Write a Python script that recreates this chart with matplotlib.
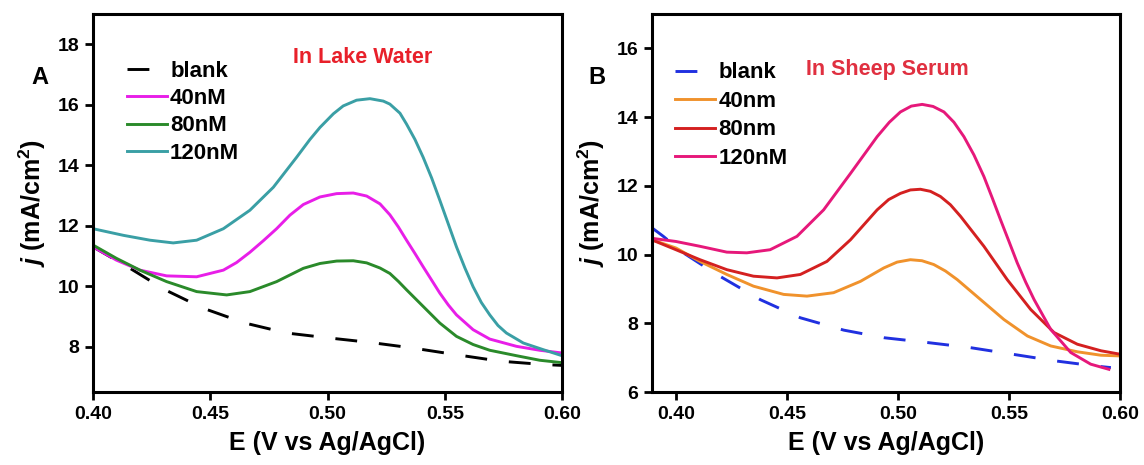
import matplotlib
matplotlib.use("Agg")
import matplotlib.pyplot as plt

plt.rcParams['font.family'] = ['Liberation Sans', 'DejaVu Sans']
plt.rcParams['font.weight'] = 'bold'
plt.rcParams['axes.labelweight'] = 'bold'
plt.rcParams['mathtext.fontset'] = 'custom'
plt.rcParams['mathtext.rm'] = 'Liberation Sans:bold'
plt.rcParams['mathtext.bf'] = 'Liberation Sans:bold'
plt.rcParams['mathtext.it'] = 'Liberation Sans:italic:bold'
plt.rcParams['mathtext.bfit'] = 'Liberation Sans:italic:bold'

# ---- Panel A: lake water ----
a_blank_E = [0.400, 0.4158, 0.4307, 0.447, 0.4648, 0.4826, 0.5003, 0.5181, 0.5359, 0.5543, 0.5736, 0.5919, 0.600]
a_blank_j = [11.30, 10.59, 9.88, 9.27, 8.78, 8.45, 8.29, 8.14, 7.96, 7.74, 7.52, 7.41, 7.38]

a_40_E = [0.400, 0.410, 0.420, 0.4314, 0.4442, 0.4556, 0.4612, 0.4669, 0.4726, 0.4783, 0.484, 0.4897,
          0.4968, 0.5039, 0.511, 0.5167, 0.5224, 0.5266, 0.5302, 0.5337, 0.5373, 0.5408, 0.5444,
          0.5479, 0.5515, 0.555, 0.5621, 0.5692, 0.5806, 0.5905, 0.600]
a_40_j = [11.30, 10.86, 10.53, 10.34, 10.31, 10.53, 10.78, 11.12, 11.50, 11.90, 12.35, 12.70,
          12.95, 13.06, 13.08, 12.98, 12.72, 12.36, 11.96, 11.52, 11.08, 10.64, 10.20,
          9.77, 9.38, 9.05, 8.56, 8.25, 8.01, 7.88, 7.79]

a_80_E = [0.400, 0.410, 0.420, 0.4314, 0.4442, 0.457, 0.4669, 0.4783, 0.4897, 0.4968, 0.5039, 0.511,
          0.5167, 0.5224, 0.5266, 0.5302, 0.5337, 0.5408, 0.5479, 0.555, 0.5621, 0.5692, 0.5806,
          0.5905, 0.600]
a_80_j = [11.36, 10.92, 10.53, 10.15, 9.82, 9.71, 9.82, 10.15, 10.59, 10.75, 10.83, 10.84,
          10.77, 10.60, 10.42, 10.16, 9.88, 9.33, 8.78, 8.34, 8.07, 7.88, 7.70,
          7.55, 7.47]

a_120_E = [0.400, 0.413, 0.4243, 0.4342, 0.4442, 0.4556, 0.4669, 0.4769, 0.4868, 0.4925, 0.4968, 0.5025,
           0.5067, 0.5124, 0.5181, 0.5238, 0.5266, 0.5309, 0.5337, 0.5373, 0.5408, 0.5444, 0.5479,
           0.5515, 0.555, 0.5586, 0.5621, 0.5656, 0.5692, 0.5727, 0.5763, 0.5835, 0.592, 0.600]
a_120_j = [11.90, 11.68, 11.52, 11.43, 11.52, 11.90, 12.51, 13.27, 14.26, 14.85, 15.25, 15.70,
           15.96, 16.15, 16.20, 16.12, 16.02, 15.72, 15.36, 14.85, 14.26, 13.58, 12.84,
           12.06, 11.30, 10.60, 9.98, 9.46, 9.05, 8.70, 8.45, 8.12, 7.90, 7.70]

# ---- Panel B: sheep serum ----
b_blank_E = [0.3883, 0.3943, 0.4033, 0.4184, 0.4379, 0.456, 0.4756, 0.4936, 0.5132, 0.5327, 0.5515, 0.5703, 0.5884, 0.5959]
b_blank_j = [10.82, 10.53, 10.05, 9.42, 8.69, 8.16, 7.80, 7.58, 7.44, 7.29, 7.10, 6.91, 6.76, 6.71]

b_40_E = [0.3883, 0.400, 0.4108, 0.4229, 0.4349, 0.4485, 0.459, 0.471, 0.4831, 0.4936, 0.4996, 0.5056,
          0.5108, 0.5161, 0.5214, 0.5267, 0.5372, 0.5477, 0.5583, 0.5688, 0.5808, 0.5914, 0.600]
b_40_j = [10.45, 10.19, 9.80, 9.42, 9.08, 8.84, 8.79, 8.89, 9.22, 9.61, 9.78, 9.85,
          9.82, 9.71, 9.52, 9.27, 8.69, 8.11, 7.63, 7.34, 7.17, 7.07, 7.05]

b_80_E = [0.3883, 0.400, 0.4108, 0.4229, 0.4349, 0.4455, 0.456, 0.468, 0.4786, 0.4906, 0.4958, 0.5011,
          0.5056, 0.5101, 0.5146, 0.5191, 0.5236, 0.5282, 0.5387, 0.5492, 0.5598, 0.5703, 0.5808,
          0.5914, 0.600]
b_80_j = [10.45, 10.14, 9.85, 9.56, 9.37, 9.32, 9.42, 9.80, 10.43, 11.30, 11.60, 11.78,
          11.88, 11.90, 11.84, 11.69, 11.45, 11.11, 10.24, 9.27, 8.40, 7.73, 7.39,
          7.20, 7.10]

b_120_E = [0.3883, 0.400, 0.4108, 0.4229, 0.4319, 0.4424, 0.4545, 0.4665, 0.4786, 0.4906, 0.4961, 0.5011,
           0.506, 0.5109, 0.5158, 0.5207, 0.5252, 0.5297, 0.5342, 0.5387, 0.5425, 0.5462, 0.55,
           0.5537, 0.5575, 0.5613, 0.5688, 0.5778, 0.5868, 0.595]
b_120_j = [10.48, 10.38, 10.24, 10.07, 10.05, 10.14, 10.53, 11.30, 12.36, 13.43, 13.85, 14.15,
           14.32, 14.37, 14.31, 14.15, 13.85, 13.43, 12.90, 12.27, 11.64, 11.01, 10.38,
           9.76, 9.20, 8.69, 7.82, 7.15, 6.81, 6.66]

xticks = [0.40, 0.45, 0.50, 0.55, 0.60]

fig = plt.figure(figsize=(11.44, 4.65), dpi=100)
W, H = 1144, 465
axA = fig.add_axes([93 / W, 1 - 392 / H, 469 / W, 378 / H])
axB = fig.add_axes([652 / W, 1 - 392 / H, 468 / W, 378 / H])

lw = 2.1
dash = (0, (7.5, 7.5))

axA.plot(a_blank_E, a_blank_j, color='black', lw=lw, linestyle=dash, label='blank')
axA.plot(a_40_E, a_40_j, color='#e81ee8', lw=lw, label='40nM')
axA.plot(a_80_E, a_80_j, color='#2a8a2a', lw=lw, label='80nM')
axA.plot(a_120_E, a_120_j, color='#3a9fa5', lw=lw, label='120nM')

axB.plot(b_blank_E, b_blank_j, color='#2030e0', lw=lw, linestyle=dash, label='blank')
axB.plot(b_40_E, b_40_j, color='#f0922c', lw=lw, label='40nm')
axB.plot(b_80_E, b_80_j, color='#d42020', lw=lw, label='80nm')
axB.plot(b_120_E, b_120_j, color='#e6187a', lw=lw, label='120nM')

axA.set_xlim(0.40, 0.60)
axA.set_ylim(6.5, 19)
axA.set_yticks([8, 10, 12, 14, 16, 18])
axB.set_xlim(0.3892, 0.60)
axB.set_ylim(6, 17)
axB.set_yticks([6, 8, 10, 12, 14, 16])

for ax in (axA, axB):
    ax.set_xticks(xticks)
    ax.set_xticklabels([f'{t:.2f}' for t in xticks])
    ax.tick_params(direction='out', length=6, width=2, labelsize=14, pad=4)
    for s in ax.spines.values():
        s.set_linewidth(2.2)
    ax.set_xlabel('E (V vs Ag/AgCl)', fontsize=18, labelpad=6)
    ax.set_ylabel(r'$\mathbfit{j}$ (mA/cm$^\mathbf{2}$)', fontsize=18, labelpad=7)

axA.legend(loc='upper left', frameon=False, fontsize=16, handlelength=1.8,
           handletextpad=0.15, labelspacing=0.28, borderpad=0, borderaxespad=0,
           bbox_to_anchor=(0.072, 0.876))
axB.legend(loc='upper left', frameon=False, fontsize=16, handlelength=1.8,
           handletextpad=0.15, labelspacing=0.34, borderpad=0, borderaxespad=0,
           bbox_to_anchor=(0.049, 0.872))

axA.text(0.575, 0.885, 'In Lake Water', transform=axA.transAxes, color='#e8202a',
         fontsize=15.5, ha='center', va='center')
axB.text(0.503, 0.854, 'In Sheep Serum', transform=axB.transAxes, color='#e03040',
         fontsize=15.5, ha='center', va='center')

fig.text(40 / W, 1 - 77 / H, 'A', fontsize=17, ha='center', va='center')
fig.text(597 / W, 1 - 77 / H, 'B', fontsize=17, ha='center', va='center')

fig.savefig('out.png', dpi=100)
